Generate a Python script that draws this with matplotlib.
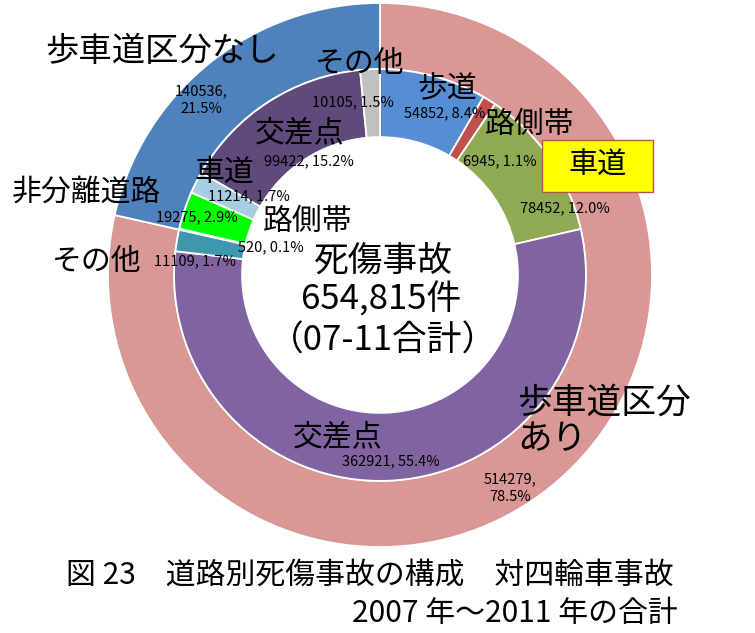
import matplotlib
matplotlib.use("Agg")
import matplotlib.pyplot as plt
from matplotlib.patches import Rectangle

plt.rcParams['font.family'] = ['Noto Sans CJK JP', 'DejaVu Sans']

# ---- data ----
outer_labels = ["歩車道区分あり", "歩車道区分なし"]
outer_values = [514279, 140536]
outer_pcts = ["78.5%", "21.5%"]

inner_labels = ["歩道", "路側帯", "車道", "交差点", "その他",
                "路側帯", "非分離道路", "車道", "交差点", "その他"]
inner_values = [54852, 6945, 78452, 362921, 11109,
                520, 19275, 11214, 99422, 10105]
inner_pcts = ["8.4%", "1.1%", "12.0%", "55.4%", "1.7%",
              "0.1%", "2.9%", "1.7%", "15.2%", "1.5%"]

total_text = "654,815件"
center_title = "死傷事故"
center_note = "（07-11合計）"
title1 = "図 23　道路別死傷事故の構成　対四輪車事故"
title2 = "2007 年～2011 年の合計"

# ---- style ----
outer_colors = ["#D99795", "#4F81BD"]
inner_colors = ["#558ED5", "#C0504D", "#8FAA52", "#7F64A1", "#3E97AD",
                "#3E97AD", "#00FF00", "#A7CDE0", "#5F4A7B", "#C0C0C0"]

W, H = 755, 633
CX, CY, R = 380, 275, 272

fig = plt.figure(figsize=(W / 100, H / 100), dpi=100)
ax = fig.add_axes([(CX - R) / W, (H - (CY + R)) / H, 2 * R / W, 2 * R / H])

r_out, r_mid, r_in = 1.0, 0.757, 0.507
ax.pie(outer_values, radius=r_out, colors=outer_colors, startangle=90,
       counterclock=False,
       wedgeprops=dict(width=r_out - r_mid, edgecolor="white", linewidth=1.3))
ax.pie(inner_values, radius=r_mid, colors=inner_colors, startangle=90,
       counterclock=False,
       wedgeprops=dict(width=r_mid - r_in, edgecolor="white", linewidth=1.3))
ax.set_xlim(-1, 1)
ax.set_ylim(-1, 1)
ax.set_aspect("equal")
ax.axis("off")


def P(px, py):
    return ((px - CX) / R, (CY - py) / R)


def txt(px, py, s, size, **kw):
    x, y = P(px, py)
    kw.setdefault("ha", "center")
    kw.setdefault("va", "center")
    ax.text(x, y, s, fontsize=size, color="black", clip_on=False, **kw)


BIG = 21.5
NUM = 10.5

# outer labels
txt(162, 52, outer_labels[1], 24)
txt(201, 100, f"{outer_values[1]},\n{outer_pcts[1]}", NUM, linespacing=1.35)
txt(517, 403, "歩車道区分", 25, ha="left")
txt(517, 440, "あり", 25, ha="left")
txt(510, 488, f"{outer_values[0]},\n{outer_pcts[0]}", NUM, linespacing=1.35)

# inner name labels (layout positions)
name_pos = [(447, 89), (530, 124), None, (338, 437), (97, 262),
            (308, 221), (86, 192), (224, 172), (300, 133), (360, 63)]
num_pos = [(445, 113), (500, 161), (565, 208), (391, 461), (195, 261),
           (271, 247), (197, 217), (249, 196), (309, 161), (353, 102)]

for i, lab in enumerate(inner_labels):
    if name_pos[i] is not None:
        txt(name_pos[i][0], name_pos[i][1], lab, BIG)
    txt(num_pos[i][0], num_pos[i][1], f"{inner_values[i]}, {inner_pcts[i]}", NUM)

# yellow boxed label for 車道
x0, y1 = P(542, 140)
x1, y0 = P(653, 192)
ax.add_patch(Rectangle((x0, y0), x1 - x0, y1 - y0, facecolor="#FFFF00",
                       edgecolor="#C0504D", linewidth=1.0, clip_on=False,
                       zorder=5))
bx, by = P(598, 166)
ax.text(bx, by, inner_labels[2], fontsize=21, ha="center", va="center",
        zorder=6, clip_on=False)

# center text
txt(383, 261, center_title, 25)
txt(381, 300, total_text, 25)
txt(383, 341, center_note, 25)

# title
fig.text(370 / W, 1 - 575 / H, title1, fontsize=21.5, ha="center", va="center")
fig.text(678 / W, 1 - 613 / H, title2, fontsize=21.5, ha="right", va="center")

fig.savefig("out.png", dpi=100, facecolor="white")
